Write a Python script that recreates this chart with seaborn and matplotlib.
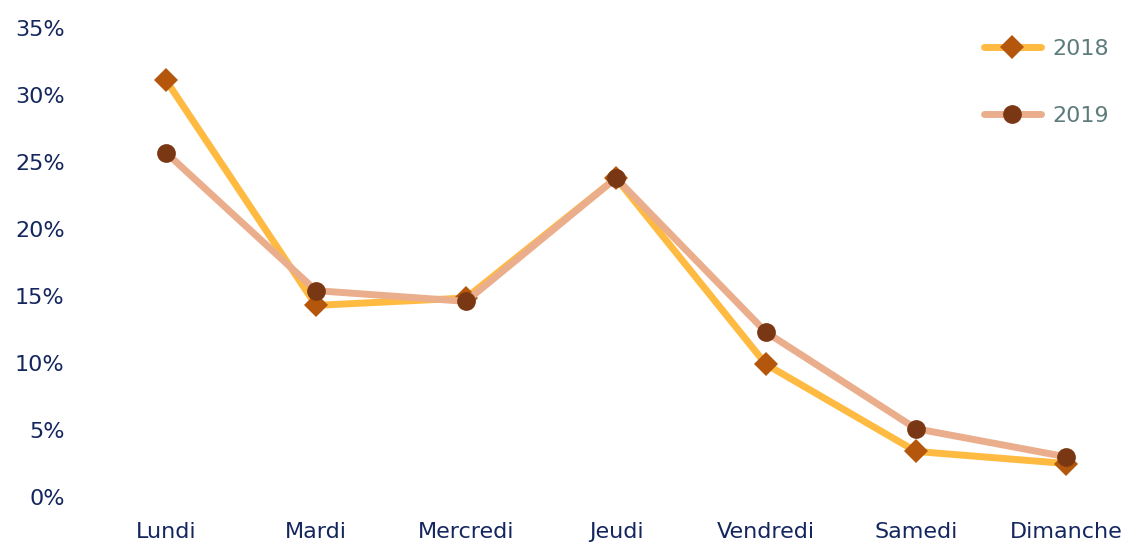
import matplotlib
matplotlib.use("Agg")
import matplotlib.pyplot as plt
import seaborn as sns
import pandas as pd
from matplotlib.ticker import FuncFormatter

days = ["Lundi", "Mardi", "Mercredi", "Jeudi", "Vendredi", "Samedi", "Dimanche"]
v2018 = [31.1, 14.3, 14.85, 23.8, 9.9, 3.4, 2.5]
v2019 = [25.7, 15.4, 14.6, 23.8, 12.3, 5.1, 3.0]
years = ["2018", "2019"]
yticks = [0, 5, 10, 15, 20, 25, 30, 35]

sns.set_theme(style="white")
plt.rcParams['font.family'] = ['DejaVu Sans']

df = pd.DataFrame({
    "jour": days * 2,
    "val": v2018 + v2019,
    "annee": [years[0]] * len(days) + [years[1]] * len(days),
})

fig = plt.figure(figsize=(11.29, 5.45), dpi=100)
ax = fig.add_axes([91 / 1129, 48 / 545, 1 - 91 / 1129, (497 - 28) / 545])

styles = {
    "2018": dict(color="#FFBA42", marker="D", markersize=12, mfc="#B4560C", mec="#B4560C"),
    "2019": dict(color="#EBAE8C", marker="o", markersize=13.5, mfc="#7A3713", mec="#7A3713"),
}
for yr in years:
    st = styles[yr]
    sub = df[df["annee"] == yr]
    sns.lineplot(data=sub, x="jour", y="val", ax=ax, sort=False, color=st["color"],
                 linewidth=5, marker=st["marker"], markersize=st["markersize"],
                 markerfacecolor=st["mfc"], markeredgecolor=st["mec"], markeredgewidth=0,
                 label=yr, clip_on=False)

ax.set_xlim(-0.5, 6.42)
ax.set_ylim(0, 35)
ax.set_yticks(yticks)
ax.yaxis.set_major_formatter(FuncFormatter(lambda v, p: f"{v:.0f}%"))
ax.set_xlabel("")
ax.set_ylabel("")
for s in ax.spines.values():
    s.set_visible(False)
ax.tick_params(axis="y", labelsize=16, labelcolor="#14265E", pad=19, length=0)
ax.tick_params(axis="x", labelsize=16, labelcolor="#14265E", pad=18, length=0)
ax.grid(False)

leg = ax.legend(loc="upper right", bbox_to_anchor=(1118 / 1129, 1 - 30 / 545),
                bbox_transform=fig.transFigure, frameon=False, fontsize=16,
                handlelength=2.6, labelspacing=2.1, handletextpad=0.5, borderaxespad=0)
for t in leg.get_texts():
    t.set_color("#5E7B7B")

fig.savefig("out.png", dpi=100)
